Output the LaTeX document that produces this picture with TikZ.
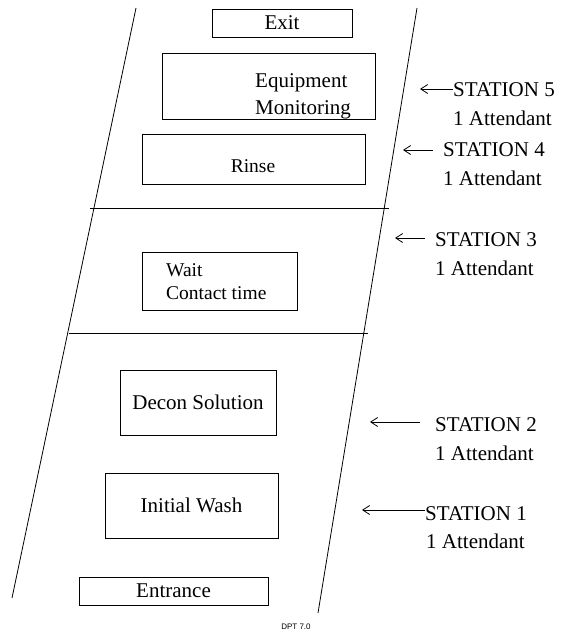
\documentclass[tikz,border=0pt]{standalone}
\usepackage{fontspec}
\setmainfont{Liberation Serif}
\newfontfamily\dptfont{Liberation Sans}
\usetikzlibrary{arrows.meta}
\begin{document}
\begin{tikzpicture}[x=1pt,y=-1pt,
  ln/.style={line width=0.8pt},
  box/.style={draw, line width=0.8pt, inner sep=0pt},
  txt/.style={inner sep=0pt, font=\fontsize{21}{25}\selectfont},
  stxt/.style={inner sep=0pt, font=\fontsize{19.5}{23}\selectfont},
  arr/.style={line width=0.8pt, -{Straight Barb[length=7pt,width=9pt]}}]
\useasboundingbox (0,0) rectangle (566,633);
% corridor walls
\coordinate (lt) at (136,8);
\coordinate (lb) at (12,598);
\coordinate (rt) at (417,8);
\coordinate (rb) at (318,613);
\draw[ln] (lt) -- (lb);
\draw[ln] (rt) -- (rb);
\coordinate (h1a) at (90,208);
\coordinate (h1b) at (389,208);
\coordinate (h2a) at (69,333);
\coordinate (h2b) at (368,333);
\draw[ln] (h1a) -- (h1b);
\draw[ln] (h2a) -- (h2b);
% boxes
\node[box, minimum width=140, minimum height=28, txt] (exit) at (282,23) {Exit};
\node[box, minimum width=213, minimum height=66] (equip) at (268.5,86) {};
\node[txt, anchor=west, align=left, font=\fontsize{21}{27}\selectfont] (equipt) at (255,96) {Equipment\\Monitoring};
\node[box, minimum width=223, minimum height=50] (rinse) at (253.5,159) {};
\node[stxt] (rinset) at (253,166) {Rinse};
\node[box, minimum width=155, minimum height=58] (wait) at (219.5,281) {};
\node[stxt, anchor=west, align=left] (waitt) at (166,282) {Wait\\Contact time};
\node[box, minimum width=156, minimum height=65, txt] (decon) at (198,402.5) {Decon Solution};
\node[box, minimum width=173, minimum height=65, txt] (wash) at (191.5,505.5) {Initial Wash};
\node[box, minimum width=189, minimum height=28, txt] (entr) at (173.5,591) {Entrance};
% station labels
\node[txt, anchor=west] (s5) at (453,90) {STATION 5};
\node[txt, anchor=west] (a5) at (453,118) {1 Attendant};
\node[txt, anchor=west] (s4) at (443,150) {STATION 4};
\node[txt, anchor=west] (a4) at (443,178) {1 Attendant};
\node[txt, anchor=west] (s3) at (435,240) {STATION 3};
\node[txt, anchor=west] (a3) at (435,268) {1 Attendant};
\node[txt, anchor=west] (s2) at (435,425) {STATION 2};
\node[txt, anchor=west] (a2) at (435,453) {1 Attendant};
\node[txt, anchor=west] (s1) at (425,514) {STATION 1};
\node[txt, anchor=west] (a1) at (426,541) {1 Attendant};
% arrows
\coordinate (t5) at (420,89);
\coordinate (t4) at (403,150);
\coordinate (t3) at (395,238);
\coordinate (t2) at (370,422);
\coordinate (t1) at (362,510);
\draw[arr] ([yshift=1pt]s5.west) -- (t5);
\draw[arr] ([xshift=-10pt]s4.west) -- (t4);
\draw[arr] ([xshift=-10pt,yshift=2pt]s3.west) -- (t3);
\draw[arr] ([xshift=-15pt,yshift=3pt]s2.west) -- (t2);
\draw[arr] ([yshift=4pt]s1.west) -- (t1);
\node[inner sep=0pt, font=\dptfont\fontsize{8}{9}\selectfont] (dpt) at (296,627) {DPT 7.0};
\end{tikzpicture}
\end{document}
